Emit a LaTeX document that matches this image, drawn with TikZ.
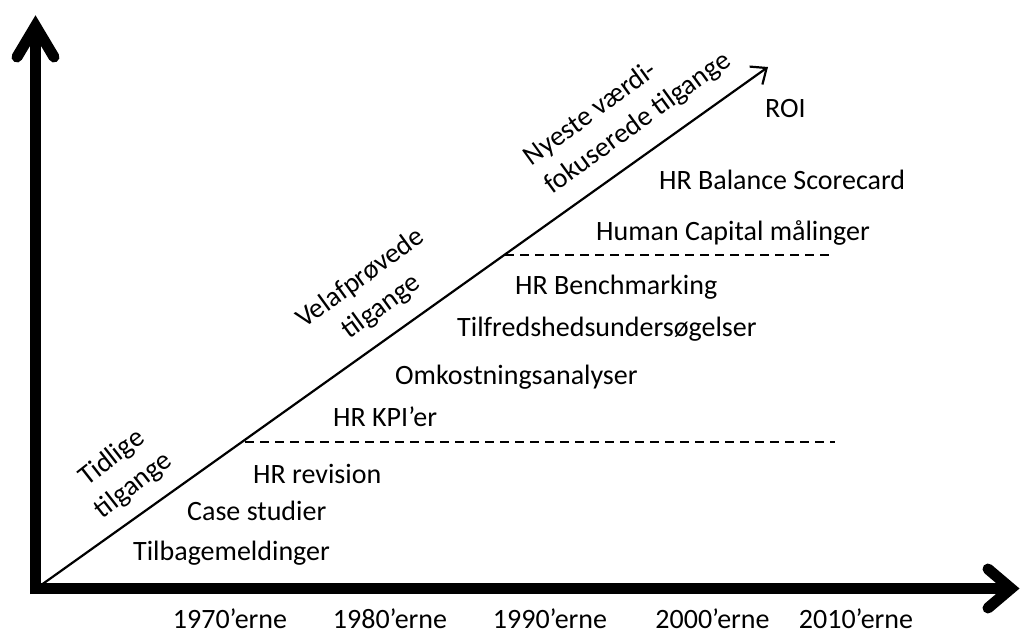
\documentclass[tikz,border=0pt]{standalone}
\usepackage{fontspec}
\setmainfont{Carlito}
\usetikzlibrary{arrows.meta}
\begin{document}
\begin{tikzpicture}[x=1pt,y=-1pt,
  lbl/.style={font=\fontsize{28}{34}\selectfont, inner sep=0pt, anchor=base west},
  yr/.style={font=\fontsize{28}{34}\selectfont, inner sep=0pt, anchor=base},
  rlbl/.style={font=\fontsize{28}{35}\selectfont, inner sep=0pt, rotate=36},
  axis/.style={line width=11pt},
  chev/.style={line width=11pt, line cap=round, line join=miter},
  guide/.style={line width=1.5pt, dash pattern=on 9pt off 6pt},
  trend/.style={line width=2.2pt, -{Straight Barb[length=13pt,width=22pt]}}]
\useasboundingbox (0,0) rectangle (1021,633);
% axes
\coordinate (vb) at (35.5,594);
\coordinate (vt) at (35.5,28);
\coordinate (hl) at (30,588.5);
\coordinate (hr) at (1009,588.5);
\draw[axis] (vb) -- (vt);
\draw[chev] (17,57) -- (35.5,26) -- (54,57);
\draw[axis] (hl) -- (hr);
\draw[chev] (988,569) -- (1011,588.5) -- (988,608);
% trend line
\coordinate (O) at (37,588);
\coordinate (T) at (768,67);
\draw[trend] (O) -- (T);
% dashed separators
\coordinate (d1s) at (245,442);
\coordinate (d1e) at (835,442);
\coordinate (d2s) at (505,255);
\coordinate (d2e) at (833,255);
\draw[guide] (d1s) -- (d1e);
\draw[guide] (d2s) -- (d2e);
% items
\node[lbl] (roi) at (765,117.5) {ROI};
\node[lbl] (bsc) at (659,189) {HR Balance Scorecard};
\node[lbl] (hcm) at (596,240) {Human Capital målinger};
\node[lbl] (bench) at (515,294) {HR Benchmarking};
\node[lbl] (tilf) at (457,336) {Tilfredshedsundersøgelser};
\node[lbl] (omk) at (395,384) {Omkostningsanalyser};
\node[lbl] (kpi) at (333,426) {HR KPI’er};
\node[lbl] (rev) at (253,483) {HR revision};
\node[lbl] (case) at (187,520) {Case studier};
\node[lbl] (tilb) at (133,560) {Tilbagemeldinger};
% years
\node[yr] (y70) at (230,628.5) {1970’erne};
\node[yr] (y80) at (390,628.5) {1980’erne};
\node[yr] (y90) at (550,628.5) {1990’erne};
\node[yr] (y00) at (712.5,628.5) {2000’erne};
\node[yr] (y10) at (856,628.5) {2010’erne};
% rotated group labels
\node[rlbl, align=left] (newest) at (627.6,109.3) {Nyeste værdi-\\fokuserede tilgange};
\node[rlbl, align=center] (proven) at (371,293) {Velafprøvede\\tilgange};
\node[rlbl, rotate=2, align=center] (early) at (123,472) {Tidlige\\tilgange};
\end{tikzpicture}
\end{document}
